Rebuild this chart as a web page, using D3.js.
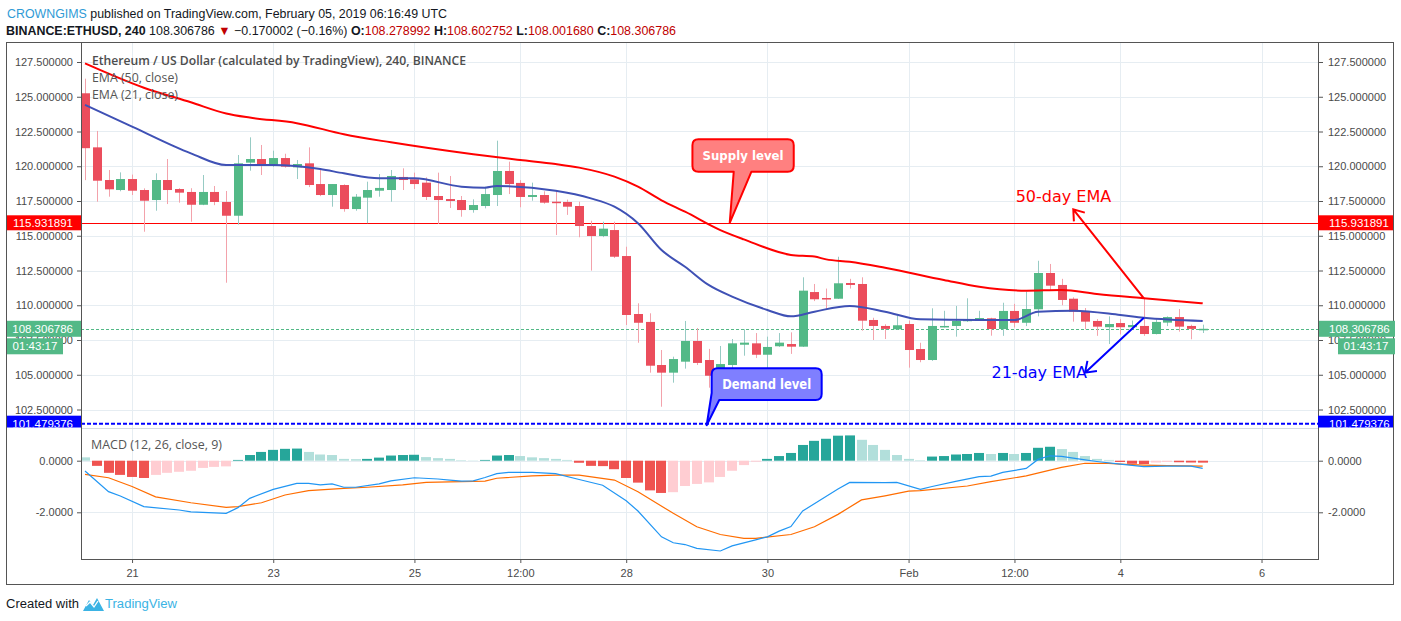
<!DOCTYPE html>
<html><head><meta charset="utf-8">
<script src="https://cdn.jsdelivr.net/npm/d3@7"></script>
<style>
body{margin:0;background:#fff;}
svg{display:block;font-family:"Liberation Sans",Arial,sans-serif;}
</style></head><body>
<svg id="c" width="1401" height="621"></svg>
<script>
// ---------------- DATA ----------------
const startTimeUTC = Date.UTC(2019, 0, 20, 8); // first 4h bar
const barHours = 4;
const opens  = [125.25,121.36,119.01,118.29,119.08,118.29,117.57,119.01,118.36,118.15,117.23,118.15,117.43,116.44,120.26,120.52,120.02,120.59,119.92,120.21,118.72,117.93,118.65,116.92,117.74,118.24,118.29,119.23,119.06,118.82,117.86,117.64,117.57,116.85,117.14,117.93,119.66,118.8,117.79,117.93,117.45,117.43,117.14,115.7,114.98,115.41,113.54,109.37,108.8,105.7,105.15,105.94,107.43,106.06,105.0,105.7,107.16,107.26,106.44,107.05,107.21,107.02,110.95,110.52,110.47,111.6,111.53,108.94,108.51,108.27,108.65,106.85,106.06,108.42,108.51,108.85,108.94,109.06,108.29,109.59,108.74,109.71,112.32,111.46,110.47,109.59,108.87,108.42,108.72,108.42,108.51,107.93,108.75,109.15,108.51,108.278992];
const highs  = [126.3,122.54,119.73,119.56,119.4,118.41,119.49,120.52,118.42,118.42,119.37,118.58,118.22,120.81,122.08,121.53,121.12,120.9,120.45,121.36,119.73,118.72,118.7,118.0,118.89,119.44,119.73,119.85,119.54,119.2,119.54,119.3,117.86,117.62,118.53,121.84,120.33,119.0,118.82,118.2,118.17,117.6,117.45,116.08,116.01,116.01,114.21,110.14,109.42,106.78,106.3,108.87,108.36,106.86,107.07,107.57,108.27,108.0,107.74,108.0,108.05,112.01,111.53,111.2,113.49,111.9,112.01,109.1,108.63,109.23,108.9,107.3,109.78,109.6,109.95,110.5,109.6,109.1,110.18,110.1,110.98,113.2,112.97,111.9,110.57,109.8,109.0,109.2,109.0,108.9,110.5,109.0,109.2,109.73,108.6,108.602752];
const lows   = [119.0,117.45,117.81,118.2,117.93,115.29,116.8,117.28,117.38,116.01,117.2,117.2,111.62,115.8,119.68,119.37,119.95,119.9,119.08,118.5,117.85,117.09,116.73,116.8,115.9,117.81,117.45,118.29,118.36,117.57,115.85,117.0,116.37,116.66,116.97,117.14,118.0,117.05,117.52,117.3,115.05,116.5,114.89,112.49,114.9,113.4,108.58,107.3,105.15,102.7,104.43,105.44,105.7,104.07,104.69,105.46,106.37,106.2,105.29,107.0,106.5,107.0,110.3,109.66,110.45,111.2,108.17,107.5,107.57,108.25,105.51,105.9,106.0,108.4,107.74,108.8,108.9,107.81,107.8,108.4,108.5,109.2,111.1,110.0,108.82,108.27,107.8,107.21,107.9,108.4,107.8,107.9,108.5,108.1,107.55,108.00168];
const closes = [121.3,118.96,118.34,119.08,118.24,117.52,119.01,118.29,118.1,117.23,118.15,117.43,116.44,120.21,120.52,120.02,120.59,119.97,120.16,118.65,117.93,118.72,116.92,117.81,118.29,118.44,119.3,119.01,118.72,117.79,117.57,117.5,116.85,117.21,118.0,119.66,118.72,117.79,117.93,117.38,117.36,117.09,115.7,114.98,115.51,113.49,109.3,108.74,105.65,105.15,106.13,107.43,105.85,104.93,105.77,107.26,107.31,106.44,107.0,107.31,107.02,111.05,110.43,110.45,111.58,111.46,108.89,108.51,108.3,108.56,106.78,106.06,108.51,108.51,108.87,108.99,109.08,108.29,109.59,108.74,109.73,112.32,111.41,110.38,109.54,108.82,108.46,108.65,108.42,108.58,107.93,108.8,109.15,108.46,108.3,108.306786];

// EMA lines (bar index, value)
const ema50Bars = [0,5,9,12,14,18,22,26,33,37,40,42,45,47,49,51,54,56,60,62,63,65,68,73,76,80,83,86,90,95];
const ema50Vals = [127.4,125.65,124.6,123.8,123.5,123.1,122.3,121.72,120.86,120.45,120.16,119.9,119.25,118.53,117.55,116.73,115.41,114.74,113.62,113.5,113.3,113.13,112.7,111.82,111.33,111.05,111.1,110.81,110.5,110.14];
const ema21Bars = [0,4,9,12,16,20,22,25,28,32,34,35,40,43,45,47,49,51,53,55,58,60,62,65,68,71,76,79,81,84,88,90,95];
const ema21Vals = [124.41,122.85,120.93,120.09,120.09,119.8,119.49,119.13,119.13,118.53,118.46,118.58,118.24,117.69,117.09,115.9,113.97,112.77,111.46,110.62,109.66,109.2,109.54,109.95,109.54,108.99,108.94,108.94,109.54,109.61,109.3,109.1,108.87];

// MACD (12, 26, close, 9)
const macdBars = [0,2,3,5,8,9,12,13,14,16,18,19,20,21,22,23,25,26,28,30,31,32,33,34,35,36,38,40,42,44,46,47,49,50,51,52,54,55,57,58,59,60,61,64,65,68,69,71,72,74,76,77,78,80,81,82,83,85,86,88,90,92,94,95];
const macdVals = [-0.4,-1.2,-1.37,-1.78,-1.91,-1.98,-2.04,-1.82,-1.46,-1.11,-0.88,-0.88,-0.94,-0.9,-1.03,-1.03,-0.9,-0.78,-0.66,-0.71,-0.75,-0.79,-0.78,-0.65,-0.5,-0.45,-0.45,-0.5,-0.73,-0.95,-1.55,-1.95,-2.95,-3.18,-3.25,-3.4,-3.5,-3.3,-3.07,-2.95,-2.73,-2.55,-1.95,-1.1,-0.84,-0.85,-0.84,-1.11,-1.0,-0.8,-0.62,-0.6,-0.45,-0.3,0.05,0.19,0.17,0.03,-0.03,-0.13,-0.23,-0.21,-0.21,-0.3];
const signalBars = [0,2,4,6,9,12,13,15,17,19,22,24,27,29,32,34,35,38,40,42,45,47,50,52,54,56,57,60,62,64,66,68,70,71,75,77,80,83,85,87,88,90,92,95];
const signalVals = [-0.53,-0.66,-1.0,-1.4,-1.63,-1.81,-1.78,-1.63,-1.33,-1.16,-1.07,-1.03,-0.94,-0.84,-0.81,-0.79,-0.68,-0.59,-0.56,-0.56,-0.75,-1.2,-2.04,-2.56,-2.86,-3.01,-3.01,-2.86,-2.56,-2.08,-1.52,-1.36,-1.18,-1.16,-0.98,-0.81,-0.59,-0.26,-0.1,-0.1,-0.13,-0.17,-0.19,-0.21];
const histVals = [0.13,-0.2,-0.47,-0.55,-0.63,-0.67,-0.55,-0.47,-0.43,-0.39,-0.28,-0.24,-0.22,0.03,0.22,0.34,0.42,0.46,0.47,0.34,0.24,0.22,0.07,0.06,0.07,0.12,0.2,0.22,0.23,0.14,0.1,0.07,0.02,0.01,0.03,0.2,0.22,0.18,0.13,0.1,0.07,0.03,-0.08,-0.2,-0.21,-0.33,-0.67,-0.85,-1.15,-1.25,-1.22,-0.98,-0.9,-0.84,-0.63,-0.39,-0.17,-0.04,0.07,0.18,0.3,0.61,0.77,0.85,0.97,0.98,0.81,0.61,0.42,0.22,0.07,0.02,0.16,0.18,0.24,0.26,0.3,0.26,0.3,0.26,0.3,0.5,0.54,0.45,0.34,0.18,0.07,0.03,-0.05,-0.12,-0.13,-0.07,-0.05,-0.06,-0.07,-0.075];

// levels and labels
const supplyLevel = 115.931891;
const demandLevel = 101.479376;
const lastPrice = 108.306786;
const countdown = "01:43:17";
const priceTicks = [102.5,105,107.5,110,112.5,115,117.5,120,122.5,125,127.5];
const macdTicks = [0,-2];
const timeTicks = [Date.UTC(2019,0,21),Date.UTC(2019,0,23),Date.UTC(2019,0,25),Date.UTC(2019,0,26,12),Date.UTC(2019,0,28),Date.UTC(2019,0,30),Date.UTC(2019,1,1),Date.UTC(2019,1,2,12),Date.UTC(2019,1,4),Date.UTC(2019,1,6)];
const timeTickLabels = ["21","23","25","12:00","28","30","Feb","12:00","4","6"];

// ---------------- LAYOUT ----------------
const L = 81, R = 1318, PT = 43, PB = 427.5, MT = 429, MB = 559;
const svg = d3.select("#c");
const dateAt = i => new Date(startTimeUTC + i * barHours * 3600e3);
const x = d3.scaleUtc().domain([dateAt(0), dateAt(95)]).range([85, 1202.7]);
const yP = d3.scaleLinear().domain([102.5, 127.5]).range([409.5, 62]);
const yM = d3.scaleLinear().domain([-2, 0]).range([512.3, 460.7]);

const defs = svg.append("defs");
defs.append("clipPath").attr("id","clipP").append("rect").attr("x",L).attr("y",PT).attr("width",R-L).attr("height",PB-PT);
defs.append("clipPath").attr("id","clipM").append("rect").attr("x",L).attr("y",MT).attr("width",R-L).attr("height",MB-MT);

// header
const h1 = svg.append("text").attr("x",7).attr("y",17.5).attr("font-size",12.5).attr("textLength",440).attr("lengthAdjust","spacingAndGlyphs");
h1.append("tspan").attr("fill","#2f9bd6").text("CROWNGIMS");
h1.append("tspan").attr("fill","#131722").text(" published on TradingView.com, February 05, 2019 06:16:49 UTC");
const h2 = svg.append("text").attr("x",6).attr("y",34.5).attr("font-size",12.5).attr("fill","#131722").attr("textLength",670).attr("lengthAdjust","spacingAndGlyphs");
h2.append("tspan").attr("font-weight","bold").text("BINANCE:ETHUSD, 240 ");
h2.append("tspan").text("108.306786 ");
h2.append("tspan").attr("fill","#c00000").text("▼");
h2.append("tspan").text(" −0.170002 (−0.16%) ");
[["O:","108.278992"],["H:","108.602752"],["L:","108.001680"],["C:","108.306786"]].forEach((p,i)=>{
  h2.append("tspan").attr("font-weight","bold").text((i?" ":"")+p[0]);
  h2.append("tspan").attr("fill","#c00000").text(p[1]);
});

// outer frame
svg.append("rect").attr("x",6.5).attr("y",42.5).attr("width",1387).attr("height",542).attr("fill","none").attr("stroke","#555").attr("stroke-width",1);

// grid
const gridC = "#e6edf2";
const g = svg.append("g");
g.selectAll(".hg").data(priceTicks).join("line").attr("x1",L).attr("x2",R)
  .attr("y1",d=>Math.round(yP(d))+0.5).attr("y2",d=>Math.round(yP(d))+0.5).attr("stroke",gridC);
g.selectAll(".mg").data(macdTicks).join("line").attr("x1",L).attr("x2",R)
  .attr("y1",d=>Math.round(yM(d))+0.5).attr("y2",d=>Math.round(yM(d))+0.5).attr("stroke",gridC);
g.selectAll(".vg").data(timeTicks).join("line").attr("y1",PT).attr("y2",MB)
  .attr("x1",d=>Math.round(x(new Date(d)))+0.5).attr("x2",d=>Math.round(x(new Date(d)))+0.5).attr("stroke",gridC);
// pane separator
svg.append("line").attr("x1",L).attr("x2",R).attr("y1",428.5).attr("y2",428.5).attr("stroke","#d6dce0");

// price pane
const pp = svg.append("g").attr("clip-path","url(#clipP)");
pp.append("line").attr("x1",L).attr("x2",R).attr("y1",Math.round(yP(supplyLevel))+0.5).attr("y2",Math.round(yP(supplyLevel))+0.5).attr("stroke","#ff0000").attr("stroke-width",1);
pp.append("line").attr("x1",L).attr("x2",R).attr("y1",yP(demandLevel)).attr("y2",yP(demandLevel)).attr("stroke","#0000ff").attr("stroke-width",2).attr("stroke-dasharray","4 2");
pp.append("line").attr("x1",L).attr("x2",R).attr("y1",Math.round(yP(lastPrice))+0.5).attr("y2",Math.round(yP(lastPrice))+0.5).attr("stroke","#53b987").attr("stroke-dasharray","3 2");

const idx = d3.range(opens.length);
const up = i => closes[i] >= opens[i];
pp.selectAll(".wick").data(idx).join("line")
  .attr("x1",i=>Math.round(x(dateAt(i)))+0.5).attr("x2",i=>Math.round(x(dateAt(i)))+0.5)
  .attr("y1",i=>yP(highs[i])).attr("y2",i=>yP(lows[i]))
  .attr("stroke",i=>up(i)?"#97cbc4":"#f3a2ab").attr("stroke-width",1);
pp.selectAll(".body").data(idx).join("rect")
  .attr("x",i=>Math.round(x(dateAt(i)))-4).attr("width",9)
  .attr("y",i=>yP(Math.max(opens[i],closes[i])))
  .attr("height",i=>Math.max(1.5,Math.abs(yP(opens[i])-yP(closes[i]))))
  .attr("fill",i=>up(i)?"#53b987":"#eb4d5c");

const lineP = d3.line().x(d=>x(dateAt(d[0]))).y(d=>yP(d[1])).curve(d3.curveMonotoneX);
pp.append("path").attr("d",lineP(ema50Bars.map((b,i)=>[b,ema50Vals[i]]))).attr("fill","none").attr("stroke","#ff0000").attr("stroke-width",2);
pp.append("path").attr("d",lineP(ema21Bars.map((b,i)=>[b,ema21Vals[i]]))).attr("fill","none").attr("stroke","#3f51b5").attr("stroke-width",2);

// MACD pane
const mp = svg.append("g").attr("clip-path","url(#clipM)");
mp.selectAll(".hist").data(idx).join("rect")
  .attr("x",i=>Math.round(x(dateAt(i)))-5).attr("width",10)
  .attr("y",i=>Math.min(yM(0),yM(histVals[i])))
  .attr("height",i=>Math.abs(yM(histVals[i])-yM(0)))
  .attr("fill",i=>{const v=histVals[i], p=i>0?histVals[i-1]:Infinity;
     return v>=0 ? (v>=p?"#26a69a":"#b2dfdb") : (v<p?"#ef5350":"#ffcdd2");});
const lineM = d3.line().x(d=>x(dateAt(d[0]))).y(d=>yM(d[1]));
mp.append("path").attr("d",lineM(signalBars.map((b,i)=>[b,signalVals[i]]))).attr("fill","none").attr("stroke","#ff6d00").attr("stroke-width",1.2);
mp.append("path").attr("d",lineM(macdBars.map((b,i)=>[b,macdVals[i]]))).attr("fill","none").attr("stroke","#2196f3").attr("stroke-width",1.2);

// legends
svg.append("text").attr("x",92).attr("y",65).attr("font-family","'Open Sans',sans-serif").attr("font-weight",600).attr("font-size",12.5).attr("fill","#4d4d4d").attr("textLength",374).attr("lengthAdjust","spacingAndGlyphs").text("Ethereum / US Dollar (calculated by TradingView), 240, BINANCE");
svg.append("text").attr("x",92).attr("y",82).attr("font-family","'Open Sans',sans-serif").attr("font-size",12.5).attr("fill","#555").attr("textLength",86).attr("lengthAdjust","spacingAndGlyphs").text("EMA (50, close)");
svg.append("text").attr("x",92).attr("y",99).attr("font-family","'Open Sans',sans-serif").attr("font-size",12.5).attr("fill","#555").attr("textLength",86).attr("lengthAdjust","spacingAndGlyphs").text("EMA (21, close)");
svg.append("text").attr("x",91).attr("y",449).attr("font-family","'Open Sans',sans-serif").attr("font-size",12.5).attr("fill","#555").attr("textLength",131).attr("lengthAdjust","spacingAndGlyphs").text("MACD (12, 26, close, 9)");

// callouts
function callout(x0,y0,x1,y1,r,baseL,baseR,tx,ty){
  return `M${x0+r},${y0}H${x1-r}Q${x1},${y0} ${x1},${y0+r}V${y1-r}Q${x1},${y1} ${x1-r},${y1}H${baseR}L${tx},${ty}L${baseL[0]},${baseL[1]}` +
    (baseL[0] > x0 + r ? `H${x0+r}Q${x0},${y1} ${x0},${y1-r}` : "") + `V${y0+r}Q${x0},${y0} ${x0+r},${y0}Z`;
}
const sTipX = x(dateAt(54.8)), sTipY = yP(supplyLevel);
svg.append("path").attr("d",callout(sTipX-37.3,139.3,sTipX+64,171.7,6,[sTipX+4,171.7],sTipX+21.7,sTipX,sTipY))
  .attr("fill","#ff8080").attr("stroke","#ff0000").attr("stroke-width",2).attr("stroke-linejoin","round");
svg.append("text").attr("x",sTipX+13.3).attr("y",160).attr("text-anchor","middle").attr("font-family","'DejaVu Sans',sans-serif").attr("font-weight","bold").attr("font-size",12.5).attr("fill","#fff").attr("textLength",81).attr("lengthAdjust","spacingAndGlyphs").text("Supply level");
const dTipX = x(dateAt(52.84)), dTipY = yP(demandLevel) + 1.5;
svg.append("path").attr("d",callout(dTipX+5,368.3,dTipX+115,400,6,[dTipX+5,393],dTipX+12.6,dTipX,dTipY))
  .attr("fill","#7f7fff").attr("stroke","#0000ff").attr("stroke-width",2).attr("stroke-linejoin","round");
svg.append("text").attr("x",dTipX+60).attr("y",388.5).attr("text-anchor","middle").attr("font-family","'DejaVu Sans',sans-serif").attr("font-weight","bold").attr("font-size",13.5).attr("fill","#fff").attr("textLength",89).attr("lengthAdjust","spacingAndGlyphs").text("Demand level");

// arrows
function arrow(x1,y1,x2,y2,color){
  const a = Math.atan2(y1-y2,x1-x2), len=12, sp=0.62;
  svg.append("path").attr("d",`M${x1},${y1}L${x2},${y2}M${x2+len*Math.cos(a+sp)},${y2+len*Math.sin(a+sp)}L${x2},${y2}L${x2+len*Math.cos(a-sp)},${y2+len*Math.sin(a-sp)}`)
    .attr("fill","none").attr("stroke",color).attr("stroke-width",2);
}
const aX = x(dateAt(90));
arrow(aX, yP(110.5), x(dateAt(84)), yP(116.9), "#ff0000");
arrow(aX, yP(109.1), x(dateAt(85)), yP(105.15), "#0000ff");
svg.append("text").attr("x",x(dateAt(79.1))).attr("y",201.7).attr("font-family","'DejaVu Sans',sans-serif").attr("font-size",16).attr("fill","#ff0000").text("50-day EMA");
svg.append("text").attr("x",x(dateAt(77.05))).attr("y",378.3).attr("font-family","'DejaVu Sans',sans-serif").attr("font-size",16).attr("fill","#0000ff").text("21-day EMA");

// axes
const axC = "#4a4a4a";
function styleAxis(sel){ sel.select(".domain").remove(); sel.selectAll("line").attr("stroke","#555"); sel.selectAll("text").attr("fill",axC).attr("font-size",11).attr("font-family","'Liberation Sans',Arial,sans-serif"); }
svg.append("g").attr("transform",`translate(${L},0)`).call(d3.axisLeft(yP).tickValues(priceTicks).tickFormat(d=>d.toFixed(6)).tickSize(4).tickPadding(4)).call(styleAxis);
svg.append("g").attr("transform",`translate(${R},0)`).call(d3.axisRight(yP).tickValues(priceTicks).tickFormat(d=>d.toFixed(6)).tickSize(5).tickPadding(5)).call(styleAxis);
svg.append("g").attr("transform",`translate(${L},0)`).call(d3.axisLeft(yM).tickValues(macdTicks).tickFormat(d=>d.toFixed(4)).tickSize(4).tickPadding(4)).call(styleAxis);
svg.append("g").attr("transform",`translate(${R},0)`).call(d3.axisRight(yM).tickValues(macdTicks).tickFormat(d=>d.toFixed(4)).tickSize(5).tickPadding(5)).call(styleAxis);
svg.append("g").attr("transform",`translate(0,${MB})`).call(d3.axisBottom(x).tickValues(timeTicks.map(d=>new Date(d))).tickFormat((d,i)=>timeTickLabels[i]).tickSize(4).tickPadding(6)).call(styleAxis);
// axis lines
svg.append("line").attr("x1",L+0.5).attr("x2",L+0.5).attr("y1",42.5).attr("y2",MB).attr("stroke","#555");
svg.append("line").attr("x1",R+0.5).attr("x2",R+0.5).attr("y1",42.5).attr("y2",MB).attr("stroke","#555");
svg.append("line").attr("x1",L).attr("x2",R+1).attr("y1",MB+0.5).attr("y2",MB+0.5).attr("stroke","#555");

// axis value labels
function axisLabel(xL, w, yc, h, fill, txt, anchor, tx){
  svg.append("rect").attr("x",xL).attr("y",yc-h/2).attr("width",w).attr("height",h).attr("fill",fill);
  svg.append("text").attr("x",tx).attr("y",yc+4).attr("text-anchor",anchor).attr("font-size",11.5).attr("fill","#fff").text(txt);
}
const ySup = yP(supplyLevel), yLast = yP(lastPrice), yDem = yP(demandLevel);
axisLabel(7,74,ySup,15,"#ff0000",supplyLevel.toFixed(6),"end",73);
axisLabel(R,75,ySup,15,"#ff0000",supplyLevel.toFixed(6),"start",1329);
axisLabel(7,74,yLast,16,"#53b987",lastPrice.toFixed(6),"end",73);
axisLabel(R+1,76,yLast,16,"#53b987",lastPrice.toFixed(6),"start",1329);
axisLabel(7,56,yLast+17.5,16,"#53b987",countdown,"middle",35);
axisLabel(1338,57,yLast+17.5,16,"#53b987",countdown,"middle",1366);
const dl = svg.append("g").attr("clip-path","url(#clipDem)");
defs.append("clipPath").attr("id","clipDem").append("rect").attr("x",0).attr("y",0).attr("width",1401).attr("height",427.5);
[[7,74,"end",73],[R,75,"start",1329]].forEach(a=>{
  dl.append("rect").attr("x",a[0]).attr("y",yDem-8).attr("width",a[1]).attr("height",16).attr("fill","#0000ff");
  dl.append("text").attr("x",a[3]).attr("y",yDem+4).attr("text-anchor",a[2]).attr("font-size",11.5).attr("fill","#fff").text(demandLevel.toFixed(6));
});

// footer
svg.append("text").attr("x",6).attr("y",608).attr("font-size",12.5).attr("fill","#131722").attr("textLength",73).attr("lengthAdjust","spacingAndGlyphs").text("Created with");
svg.append("path").attr("d","M83,611 L89,600 L93,605 L97,598 L104,611 Z").attr("fill","#3bb3e4");
svg.append("path").attr("d","M86,606 L90,602 L94,607 L98,601").attr("fill","none").attr("stroke","#fff").attr("stroke-width",1.3);
svg.append("text").attr("x",105).attr("y",608).attr("font-size",12.5).attr("fill","#3bb3e4").attr("textLength",72).attr("lengthAdjust","spacingAndGlyphs").text("TradingView");
</script>
</body></html>
